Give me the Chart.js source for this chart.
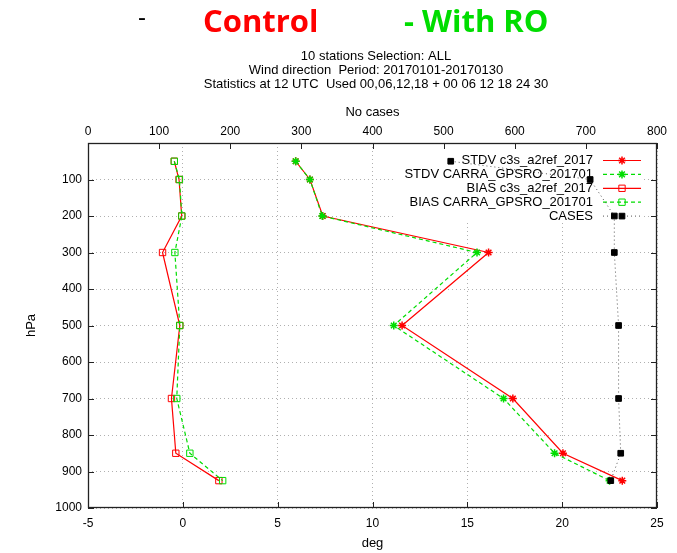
<!DOCTYPE html>
<html>
<head>
<meta charset="utf-8">
<title>Wind direction profile</title>
<script src="https://cdn.jsdelivr.net/npm/chart.js@4.4.1/dist/chart.umd.min.js"></script>
<style>
  html, body { margin: 0; padding: 0; background: #fff; }
  canvas { display: block; }
</style>
</head>
<body>
<canvas id="profileChart" width="677" height="553"></canvas>
<script>
// Pressure levels (hPa) and verification scores per level
const pressure = [50, 100, 200, 300, 500, 700, 850, 925];
const stdvControl = [5.95, 6.7, 7.38, 16.12, 11.56, 17.4, 20.04, 23.17];
const stdvRO = [5.95, 6.7, 7.35, 15.51, 11.12, 16.91, 19.6, 22.5];
const biasControl = [-0.45, -0.2, -0.06, -1.07, -0.16, -0.6, -0.37, 1.9];
const biasRO = [-0.45, -0.18, -0.05, -0.42, -0.16, -0.32, 0.37, 2.1];
const cases = [510, 706, 740, 740, 746, 746, 749, 735];

const degTicks = [-5, 0, 5, 10, 15, 20, 25];
const caseTicks = [0, 100, 200, 300, 400, 500, 600, 700, 800];
const hpaTicks = [0, 100, 200, 300, 400, 500, 600, 700, 800, 900, 1000];

const RED = '#ff0000';
const GREEN = '#00dd00';
const FONT = '"Liberation Sans", Arial, sans-serif';

function toPoints(values) {
    return values.map((v, i) => ({ x: v, y: pressure[i] }));
}

const datasets = [
    {
        label: 'STDV c3s_a2ref_2017',
        data: toPoints(stdvControl),
        borderColor: RED, backgroundColor: RED,
        borderWidth: 1.2,
        pointStyle: 'star', pointRadius: 4, pointBorderWidth: 1.5,
        order: 4
    },
    {
        label: 'STDV CARRA_GPSRO_201701',
        data: toPoints(stdvRO),
        borderColor: GREEN, backgroundColor: GREEN,
        borderWidth: 1.2, borderDash: [4, 3],
        pointStyle: 'star', pointRadius: 4, pointBorderWidth: 1.5,
        order: 3
    },
    {
        label: 'BIAS c3s_a2ref_2017',
        data: toPoints(biasControl),
        borderColor: RED, backgroundColor: 'rgba(0,0,0,0)',
        borderWidth: 1.2,
        pointStyle: 'rect', pointRadius: 4.5, pointBorderWidth: 1,
        order: 2
    },
    {
        label: 'BIAS CARRA_GPSRO_201701',
        data: toPoints(biasRO),
        borderColor: GREEN, backgroundColor: 'rgba(0,0,0,0)',
        borderWidth: 1.2, borderDash: [4, 3],
        pointStyle: 'rect', pointRadius: 4.5, pointBorderWidth: 1,
        order: 1
    },
    {
        label: 'CASES',
        data: toPoints(cases),
        xAxisID: 'x2',
        borderColor: '#555', backgroundColor: '#000',
        pointBorderColor: '#000',
        borderWidth: 1, borderDash: [1, 3],
        pointStyle: 'rect', pointRadius: 4, pointBorderWidth: 1,
        order: 0
    }
];

// Header: coloured experiment names plus the three info lines
const headerText = {
    id: 'headerText',
    afterDraw(chart) {
        const ctx = chart.ctx;
        ctx.save();
        ctx.textBaseline = 'middle';
        ctx.textAlign = 'left';
        ctx.fillStyle = '#000';
        ctx.font = '24px ' + FONT;
        ctx.fillText('-', 138, 18);
        ctx.font = 'bold 31px "Open Sans", sans-serif';
        ctx.fillStyle = RED;
        ctx.fillText('Control', 203, 23);
        ctx.fillStyle = GREEN;
        ctx.fillText('- With RO', 404, 23);

        ctx.textAlign = 'center';
        ctx.fillStyle = '#000';
        ctx.font = '13px ' + FONT;
        ctx.fillText('10 stations Selection: ALL', 376, 56);
        ctx.fillText('Wind direction  Period: 20170101-20170130', 376, 70);
        ctx.fillText('Statistics at 12 UTC  Used 00,06,12,18 + 00 06 12 18 24 30', 376, 84.5);
        ctx.restore();
    }
};

// Key box inside the plot, drawn beneath the data lines
const keyBox = {
    id: 'keyBox',
    beforeDatasetsDraw(chart) {
        const ctx = chart.ctx;
        const a = chart.chartArea;
        const textRight = 593, lineL = 603, lineR = 641, markX = 622;
        const rowTop = a.top + 17.5, rowStep = 13.9;
        ctx.save();
        ctx.fillStyle = '#fff';
        ctx.fillRect(395, a.top + 3, 643 - 395, 80 - 3);
        ctx.font = '13px ' + FONT;
        ctx.textAlign = 'right';
        ctx.textBaseline = 'middle';
        chart.data.datasets.forEach((ds, i) => {
            const y = rowTop + i * rowStep;
            ctx.fillStyle = '#000';
            ctx.fillText(ds.label, textRight, y);
            ctx.strokeStyle = ds.borderColor;
            ctx.lineWidth = ds.borderWidth;
            ctx.setLineDash(ds.borderDash || []);
            ctx.beginPath();
            ctx.moveTo(lineL, y);
            ctx.lineTo(lineR, y);
            ctx.stroke();
            ctx.setLineDash([]);
            ctx.strokeStyle = ds.pointBorderColor || ds.borderColor;
            ctx.fillStyle = ds.backgroundColor;
            ctx.lineWidth = ds.pointBorderWidth;
            Chart.helpers.drawPoint(ctx, {
                pointStyle: ds.pointStyle,
                radius: ds.pointRadius,
                rotation: 0,
                borderWidth: ds.pointBorderWidth
            }, markX, y);
        });
        ctx.restore();
    }
};

// Plot frame with inward tick marks on all four sides
const frameTicks = {
    id: 'frameTicks',
    afterDatasetsDraw(chart) {
        const { ctx, chartArea: a, scales } = chart;
        const len = 6;
        ctx.save();
        ctx.strokeStyle = '#222';
        ctx.lineWidth = 1.3;
        ctx.strokeRect(a.left + 0.5, a.top + 0.5, a.right - a.left - 1, a.bottom - a.top - 1);
        ctx.lineWidth = 1;
        ctx.beginPath();
        degTicks.forEach(v => {
            const px = Math.round(scales.x.getPixelForValue(v)) + 0.5;
            ctx.moveTo(px, a.bottom);
            ctx.lineTo(px, a.bottom - len);
        });
        caseTicks.forEach(v => {
            const px = Math.round(scales.x2.getPixelForValue(v)) + 0.5;
            ctx.moveTo(px, a.top);
            ctx.lineTo(px, a.top + len);
        });
        hpaTicks.forEach(v => {
            const py = Math.round(scales.y.getPixelForValue(v)) + 0.5;
            ctx.moveTo(a.left, py);
            ctx.lineTo(a.left + len, py);
            ctx.moveTo(a.right, py);
            ctx.lineTo(a.right - len, py);
        });
        ctx.stroke();
        ctx.restore();
    }
};

const tickFont = { family: FONT, size: 12 };

const ctx = document.getElementById('profileChart').getContext('2d');
const profileChart = new Chart(ctx, {
    type: 'scatter',
    data: { datasets: datasets.map(ds => Object.assign({ showLine: true, fill: false, tension: 0 }, ds)) },
    options: {
        responsive: false,
        animation: false,
        layout: { padding: { top: 95, right: 20, left: 0, bottom: 0 } },
        plugins: {
            legend: { display: false },
            tooltip: { enabled: false },
            title: { display: false }
        },
        scales: {
            x: {
                type: 'linear',
                position: 'bottom',
                min: -5, max: 25,
                afterBuildTicks: scale => { scale.ticks = degTicks.map(v => ({ value: v })); },
                afterFit: scale => { scale.height = 45; },
                grid: { color: '#b0b0b0', lineWidth: 1, drawTicks: false },
                border: { display: false, dash: [1, 3] },
                ticks: { color: '#000', font: tickFont, padding: 8, maxRotation: 0 },
                title: { display: true, text: 'deg', color: '#000', font: { family: FONT, size: 13 }, padding: { top: 0, bottom: 2 } }
            },
            x2: {
                type: 'linear',
                position: 'top',
                min: 0, max: 800,
                afterBuildTicks: scale => { scale.ticks = caseTicks.map(v => ({ value: v })); },
                afterFit: scale => { scale.height = 48; },
                grid: { drawOnChartArea: false, drawTicks: false },
                border: { display: false },
                ticks: { color: '#000', font: tickFont, padding: 4, maxRotation: 0 },
                title: { display: true, text: 'No cases', color: '#000', font: { family: FONT, size: 13 }, padding: { top: 10, bottom: 0 } }
            },
            y: {
                type: 'linear',
                reverse: true,
                min: 0, max: 1000,
                afterBuildTicks: scale => { scale.ticks = hpaTicks.map(v => ({ value: v })); },
                afterFit: scale => { scale.width = 88; },
                grid: { color: '#b0b0b0', lineWidth: 1, drawTicks: false },
                border: { display: false, dash: [1, 3] },
                ticks: {
                    color: '#000', font: tickFont, padding: 6,
                    callback: v => (v === 0 ? '' : v)
                },
                title: { display: true, text: 'hPa', color: '#000', font: { family: FONT, size: 13 }, padding: { top: 24, bottom: 24 } }
            }
        }
    },
    plugins: [keyBox, frameTicks, headerText]
});
</script>
</body>
</html>
